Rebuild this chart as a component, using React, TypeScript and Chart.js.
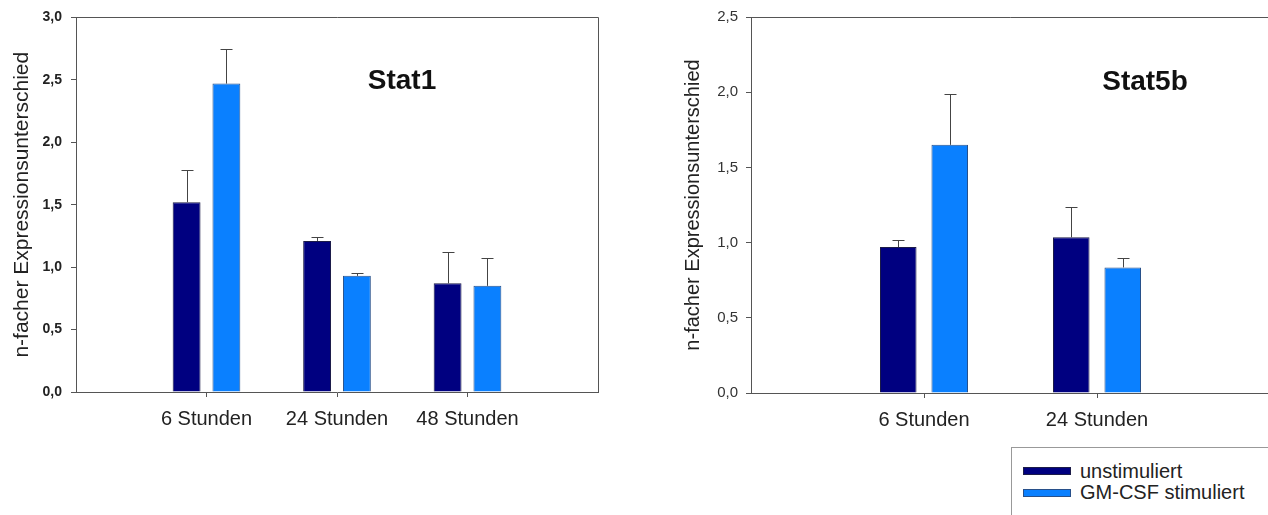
import React, { useEffect, useRef } from 'react';
import { Chart, registerables } from 'chart.js';

Chart.register(...registerables);

// ---------- data ----------
const seriesLabels = ['unstimuliert', 'GM-CSF stimuliert'];
const seriesColors = ['#000080', '#0a80ff'];
const yAxisTitle = 'n-facher Expressionsunterschied';

const stat1Title = 'Stat1';
const stat1Categories = ['6 Stunden', '24 Stunden', '48 Stunden'];
const stat1Unstim = [1.52, 1.21, 0.87];
const stat1UnstimErr = [0.26, 0.03, 0.25];
const stat1GM = [2.47, 0.93, 0.85];
const stat1GMErr = [0.28, 0.026, 0.22];
const stat1YTicks = ['0,0', '0,5', '1,0', '1,5', '2,0', '2,5', '3,0'];

const stat5bTitle = 'Stat5b';
const stat5bCategories = ['6 Stunden', '24 Stunden'];
const stat5bUnstim = [0.97, 1.035];
const stat5bUnstimErr = [0.05, 0.2];
const stat5bGM = [1.65, 0.835];
const stat5bGMErr = [0.337, 0.06];
const stat5bYTicks = ['0,0', '0,5', '1,0', '1,5', '2,0', '2,5'];

const FONT = 'Arial, "Liberation Sans", sans-serif';
const AXIS = '#555';

const pad = (arr: any[]) => [null, ...arr, null];

function makeErrorPlugin(errs: (number | null)[][]) {
  return {
    id: 'errbars',
    afterDatasetsDraw(chart: any) {
      const ctx = chart.ctx;
      const ys = chart.scales.y;
      ctx.save();
      ctx.strokeStyle = '#444';
      ctx.lineWidth = 1;
      chart.data.datasets.forEach((ds: any, di: number) => {
        const meta = chart.getDatasetMeta(di);
        meta.data.forEach((el: any, i: number) => {
          const v = ds.data[i];
          const e = errs[di][i];
          if (v == null || e == null) return;
          const top = Math.round(ys.getPixelForValue(v + e)) + 0.5;
          const x = Math.round(el.x) + 0.5;
          ctx.beginPath();
          ctx.moveTo(x, el.y);
          ctx.lineTo(x, top);
          ctx.moveTo(x - 6, top);
          ctx.lineTo(x + 6, top);
          ctx.stroke();
        });
      });
      ctx.restore();
    },
  };
}

const framePlugin = {
  id: 'frame',
  afterDraw(chart: any) {
    const { left, top, right, bottom } = chart.chartArea;
    const ctx = chart.ctx;
    ctx.save();
    ctx.strokeStyle = AXIS;
    ctx.lineWidth = 1;
    ctx.beginPath();
    ctx.moveTo(left, Math.round(top) + 0.5);
    ctx.lineTo(Math.round(right) + 0.5, Math.round(top) + 0.5);
    ctx.lineTo(Math.round(right) + 0.5, bottom);
    ctx.stroke();
    ctx.restore();
  },
};

type PanelProps = {
  left: number;
  width: number;
  height: number;
  categories: string[];
  unstim: number[];
  unstimErr: number[];
  gm: number[];
  gmErr: number[];
  yMax: number;
  yTicks: string[];
  yWidth: number;
  xHeight: number;
  padTop: number;
  padRight: number;
  tickFont: any;
  tickColor: string;
  tickPad: number;
  titleSize: number;
  titlePad: number;
  catPct: number;
  barPct: number;
};

function BarPanel(p: PanelProps) {
  const ref = useRef<HTMLCanvasElement>(null);
  useEffect(() => {
    const labels = ['', ...p.categories, ''];
    const n = labels.length;
    const chart = new Chart(ref.current as HTMLCanvasElement, {
      type: 'bar',
      data: {
        labels,
        datasets: [
          {
            label: seriesLabels[0],
            data: pad(p.unstim),
            backgroundColor: seriesColors[0],
            borderColor: '#1c1c48',
            borderWidth: 1,
            categoryPercentage: p.catPct,
            barPercentage: p.barPct,
          },
          {
            label: seriesLabels[1],
            data: pad(p.gm),
            backgroundColor: seriesColors[1],
            borderColor: '#28508a',
            borderWidth: 1,
            categoryPercentage: p.catPct,
            barPercentage: p.barPct,
          },
        ],
      },
      options: {
        responsive: false,
        animation: false,
        layout: { padding: { top: p.padTop, right: p.padRight, left: 0, bottom: 0 } },
        plugins: {
          legend: { display: false },
          tooltip: { enabled: false },
          title: { display: false },
        },
        scales: {
          x: {
            type: 'category',
            offset: false,
            grid: {
              offset: false,
              drawOnChartArea: false,
              drawTicks: true,
              tickLength: 5,
              color: AXIS,
              tickColor: (c: any) => (c.index === 0 || c.index === n - 1 ? 'rgba(0,0,0,0)' : AXIS),
            },
            border: { display: true, color: AXIS, width: 1 },
            ticks: {
              autoSkip: false,
              maxRotation: 0,
              padding: 10,
              color: '#222',
              font: { family: FONT, size: 20 },
            },
            afterFit: (s: any) => {
              s.height = p.xHeight;
            },
          },
          y: {
            min: 0,
            max: p.yMax,
            grid: { drawOnChartArea: false, tickLength: 5, color: AXIS },
            border: { display: true, color: AXIS, width: 1 },
            ticks: {
              stepSize: 0.5,
              padding: p.tickPad,
              color: p.tickColor,
              font: p.tickFont,
              callback: (_v: any, i: number) => p.yTicks[i],
            },
            title: {
              display: true,
              text: yAxisTitle,
              color: '#222',
              font: { family: FONT, size: p.titleSize },
              padding: { top: p.titlePad, bottom: 0 },
            },
            afterFit: (s: any) => {
              s.width = p.yWidth;
            },
          },
        },
      } as any,
      plugins: [makeErrorPlugin([pad(p.unstimErr), pad(p.gmErr)]), framePlugin],
    });
    return () => chart.destroy();
  }, []);
  return (
    <canvas
      ref={ref}
      width={p.width}
      height={p.height}
      style={{ position: 'absolute', left: p.left, top: 0, width: p.width, height: p.height }}
    />
  );
}

const titleStyle = (x: number, y: number): React.CSSProperties => ({
  position: 'absolute',
  left: x,
  top: y,
  transform: 'translate(-50%, -50%)',
  font: `bold 28px ${FONT}`,
  lineHeight: 1,
  whiteSpace: 'nowrap',
  color: '#111',
});

export default function App() {
  return (
    <div
      style={{
        position: 'absolute',
        left: 0,
        top: 0,
        width: 1268,
        height: 515,
        overflow: 'hidden',
        background: '#fff',
      }}
    >
      <BarPanel
        left={0}
        width={620}
        height={440}
        categories={stat1Categories}
        unstim={stat1Unstim}
        unstimErr={stat1UnstimErr}
        gm={stat1GM}
        gmErr={stat1GMErr}
        yMax={3}
        yTicks={stat1YTicks}
        yWidth={76}
        xHeight={48}
        padTop={13}
        padRight={22}
        tickFont={{ family: FONT, size: 14, weight: 'bold' }}
        tickColor="#222"
        tickPad={9}
        titleSize={21}
        titlePad={9.4}
        catPct={0.61}
        barPct={0.7}
      />
      <BarPanel
        left={640}
        width={640}
        height={440}
        categories={stat5bCategories}
        unstim={stat5bUnstim}
        unstimErr={stat5bUnstimErr}
        gm={stat5bGM}
        gmErr={stat5bGMErr}
        yMax={2.5}
        yTicks={stat5bYTicks}
        yWidth={111}
        xHeight={47}
        padTop={15}
        padRight={8}
        tickFont={{ family: FONT, size: 15 }}
        tickColor="#333"
        tickPad={8}
        titleSize={20}
        titlePad={41}
        catPct={0.595}
        barPct={0.71}
      />
      <div style={titleStyle(402, 80)}>{stat1Title}</div>
      <div style={titleStyle(1145, 81)}>{stat5bTitle}</div>
      <div
        style={{
          position: 'absolute',
          left: 1011,
          top: 447,
          width: 320,
          height: 120,
          border: '1px solid #999',
          boxSizing: 'border-box',
        }}
      />
      {seriesLabels.map((lab, i) => (
        <React.Fragment key={lab}>
          <div
            style={{
              position: 'absolute',
              left: 1023,
              top: i === 0 ? 467 : 489,
              width: 46,
              height: 6,
              background: seriesColors[i],
              border: `1px solid ${i === 0 ? '#1c1c48' : '#28508a'}`,
            }}
          />
          <div
            style={{
              position: 'absolute',
              left: 1080,
              top: i === 0 ? 471 : 492,
              transform: 'translateY(-50%)',
              font: `20px ${FONT}`,
              lineHeight: 1,
              whiteSpace: 'nowrap',
              color: '#222',
            }}
          >
            {lab}
          </div>
        </React.Fragment>
      ))}
    </div>
  );
}
